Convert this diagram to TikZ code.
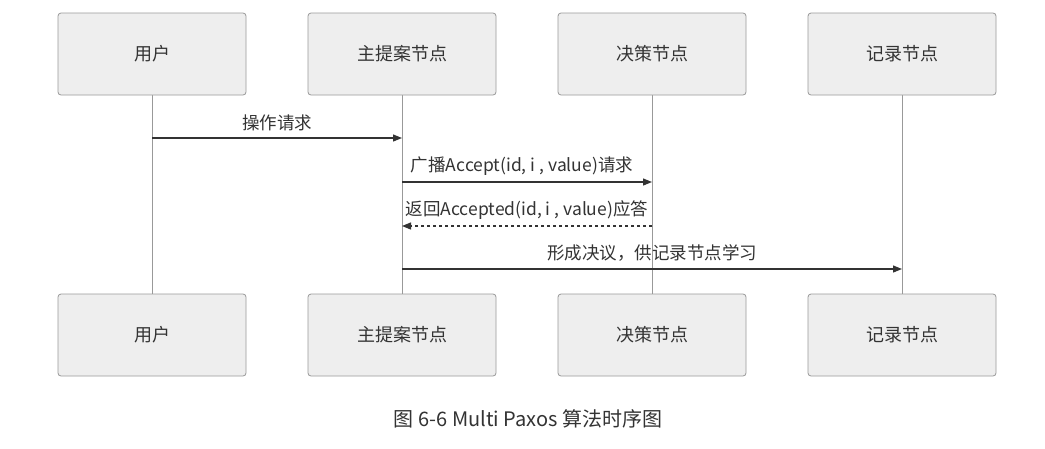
\documentclass[tikz,border=0pt]{standalone}
\usepackage{fontspec}
\setmainfont{Noto Sans CJK SC}
\usetikzlibrary{arrows.meta}
\definecolor{boxfill}{HTML}{EEEEEE}
\definecolor{boxline}{HTML}{999999}
\definecolor{ink}{HTML}{333333}
\tikzset{
  actor/.style={draw=boxline, fill=boxfill, rounded corners=3pt, minimum width=188pt, minimum height=82pt, inner sep=0pt, font=\fontsize{18}{21}\selectfont, text=ink, line width=0.8pt},
  life/.style={draw=boxline, line width=0.8pt},
  msg/.style={draw=ink, line width=1.2pt, -{Triangle[length=9pt,width=7pt]}},
  reply/.style={msg, dashed, dash pattern=on 3pt off 3pt},
  lbl/.style={font=\fontsize{17.5}{20}\selectfont, text=ink, inner sep=0pt}
}
\begin{document}
\begin{tikzpicture}[x=1pt,y=-1pt]
\useasboundingbox (0,0) rectangle (1045,448);
\fill[white] (0,0) rectangle (1045,448);
% lifelines
\foreach \x/\n in {152/a,402/b,652/c,902/d}{
  \coordinate (t\n) at (\x,95);
  \coordinate (b\n) at (\x,294);
  \draw[life] (t\n) -- (b\n);
}
\node[actor] (A1) at (152,54) {用户};
\node[actor] (B1) at (402,54) {主提案节点};
\node[actor] (C1) at (652,54) {决策节点};
\node[actor] (D1) at (902,54) {记录节点};
\node[actor] (A2) at (152,335) {用户};
\node[actor] (B2) at (402,335) {主提案节点};
\node[actor] (C2) at (652,335) {决策节点};
\node[actor] (D2) at (902,335) {记录节点};
% message points
\coordinate (m1a) at (152,138); \coordinate (m1b) at (402,138);
\coordinate (m2b) at (402,182); \coordinate (m2c) at (652,182);
\coordinate (m3c) at (652,226); \coordinate (m3b) at (402,226);
\coordinate (m4b) at (402,269); \coordinate (m4d) at (902,269);
\draw[msg] (m1a) -- (m1b);
\draw[msg] (m2b) -- (m2c);
\draw[reply] (m3c) -- (m3b);
\draw[msg] (m4b) -- (m4d);
\node[lbl] (l1) at (277,123) {操作请求};
\node[lbl] (l2) at (522,166) {广播Accept(id, i , value)请求};
\node[lbl] (l3) at (527,210) {返回Accepted(id, i , value)应答};
\node[lbl] (l4) at (652,253) {形成决议，供记录节点学习};
\node[font=\fontsize{20}{24}\selectfont, text=ink, inner sep=0pt] (cap) at (528,419) {图 6-6 Multi Paxos 算法时序图};
\end{tikzpicture}
\end{document}
